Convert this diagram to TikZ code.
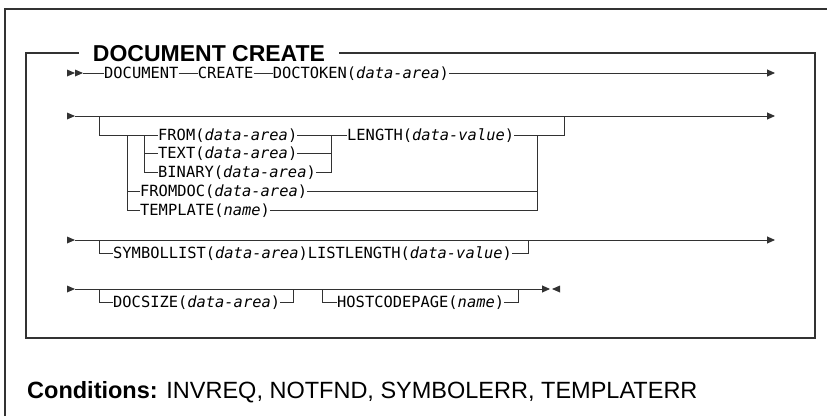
\documentclass[tikz,border=0pt]{standalone}
\usepackage{fontspec}
\setmainfont{Liberation Sans}
\newfontfamily\synfont{DejaVu Sans Mono}
\usetikzlibrary{arrows.meta,positioning}
\definecolor{synline}{RGB}{50,50,50}
\definecolor{framegray}{RGB}{50,50,50}
\newcommand{\synvar}[1]{\textit{#1}}
% right pointing triangle, tip at #1
\newcommand{\rtri}[1]{\fill[synline] (#1) -- ++(-8,-3.5) -- ++(0,7) -- cycle;}
\newcommand{\ltri}[1]{\fill[synline] (#1) -- ++(8,-3.5) -- ++(0,7) -- cycle;}

\begin{document}
\begin{tikzpicture}[x=1pt, y=-1pt,
  kw/.style={anchor=west, inner sep=0pt, text height=11.1pt, text depth=0pt,
             font=\synfont\fontsize{15.4}{18}\selectfont},
  syn/.style={draw=synline, line width=0.9pt},
  synarr/.style={syn, -{Triangle[length=8pt,width=7pt]}},
  frame/.style={draw=framegray, line width=1.3pt},
  ttl/.style={font=\bfseries\fontsize{23}{26}\selectfont, inner xsep=14pt, inner ysep=0pt}
]
\useasboundingbox (0,0) rectangle (827,416);

% Frames
\draw[frame] (5,416) -- (5,9) -- (827,9);
\node[ttl] (title) at (209,54) {DOCUMENT CREATE};
\coordinate (boxtl) at (26,53);
\draw[frame] (title.west |- boxtl) -- (boxtl) -- (26,338) -- (815,338) -- (815,53)
  -- (title.east |- boxtl);

% Row 1
\coordinate (r1a) at (83,73);
\coordinate (r1e) at (775,73);
\rtri{75,73}
\rtri{83,73}
\node[kw] (doc) at (104,73) {DOCUMENT};
\node[kw, right=19pt of doc] (create) {CREATE};
\node[kw, right=19pt of create] (tok) {DOCTOKEN(\synvar{data-area})};
\draw[syn] (r1a) -- (doc) -- (create) -- (tok);
\draw[synarr] (tok) -- (r1e);

% Row 2
\coordinate (r2a) at (75,116);
\coordinate (r2e) at (775,116);
\rtri{75,116}
\draw[synarr] (r2a) -- (r2e);
\node[kw] (from)    at (158,135) {FROM(\synvar{data-area})};
\node[kw] (text)    at (158,153) {TEXT(\synvar{data-area})};
\node[kw] (binary)  at (158,172) {BINARY(\synvar{data-area})};
\node[kw] (fromdoc) at (140,191) {FROMDOC(\synvar{data-area})};
\node[kw] (templ)   at (140,210) {TEMPLATE(\synvar{name})};
\node[kw] (length)  at (347,135) {LENGTH(\synvar{data-value})};
\coordinate (b1) at (99,116);
\coordinate (b2) at (564,116);
\coordinate (j2) at (127,135);
\coordinate (j3) at (144,135);
\coordinate (j4) at (331,135);
\coordinate (j5) at (537,135);
\draw[syn] (b1) |- (from);
\draw[syn] (j2) |- (templ);
\draw[syn] (j2) |- (fromdoc);
\draw[syn] (j3) |- (binary);
\draw[syn] (j3) |- (text);
\draw[syn] (from) -- (length);
\draw[syn] (j4) |- (binary);
\draw[syn] (j4) |- (text);
\draw[syn] (length) -| (b2);
\draw[syn] (j5) |- (templ);
\draw[syn] (j5) |- (fromdoc);

% Row 3
\coordinate (r3a) at (75,240);
\coordinate (r3e) at (775,240);
\rtri{75,240}
\draw[synarr] (r3a) -- (r3e);
\node[kw] (symlist) at (113,253) {SYMBOLLIST(\synvar{data-area})LISTLENGTH(\synvar{data-value})};
\coordinate (b3) at (99,240);
\coordinate (b4) at (528,240);
\draw[syn] (b3) |- (symlist);
\draw[syn] (symlist) -| (b4);

% Row 4
\coordinate (r4a) at (75,289);
\coordinate (r4e) at (550,289);
\rtri{75,289}
\draw[synarr] (r4a) -- (r4e);
\ltri{552,289}
\node[kw] (docsize) at (113,302) {DOCSIZE(\synvar{data-area})};
\node[kw] (hostcp)  at (337,302) {HOSTCODEPAGE(\synvar{name})};
\coordinate (b5) at (99,289);
\coordinate (b6) at (293,289);
\coordinate (b7) at (322,289);
\coordinate (b8) at (518,289);
\draw[syn] (b5) |- (docsize);
\draw[syn] (docsize) -| (b6);
\draw[syn] (b7) |- (hostcp);
\draw[syn] (hostcp) -| (b8);

% Conditions
\node[anchor=base west, inner sep=0pt, font=\fontsize{23.5}{26}\selectfont] (cond) at (27,398)
  {\textbf{Conditions:} INVREQ, NOTFND, SYMBOLERR, TEMPLATERR};
\end{tikzpicture}
\end{document}
